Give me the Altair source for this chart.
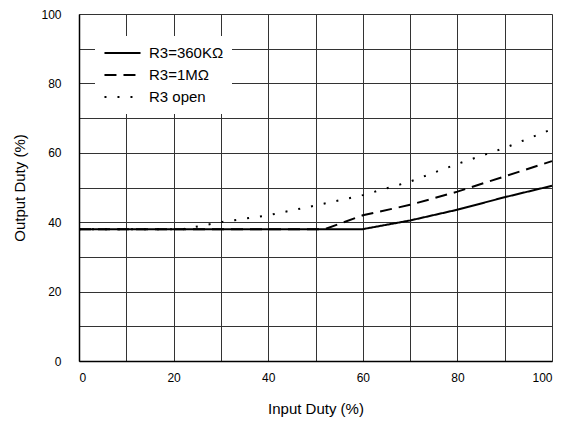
import altair as alt
import pandas as pd

series_names = ["R3=360KΩ", "R3=1MΩ", "R3 open"]

x_360k = [0, 60, 70, 80, 90, 100]
y_360k = [38, 38, 40.5, 43.6, 47.2, 50.5]

x_1m = [0, 52, 60, 70, 80, 90, 100]
y_1m = [38, 38, 42, 45, 48.8, 53.2, 57.6]

x_open = [0, 22, 30, 40, 50, 60, 70, 80, 90, 100]
y_open = [38, 38, 40, 42, 44.8, 47.8, 51.7, 56.8, 61.4, 66.8]

rows = []
for name, xs, ys in zip(series_names, [x_360k, x_1m, x_open], [y_360k, y_1m, y_open]):
    for i, (a, b) in enumerate(zip(xs, ys)):
        rows.append({"series": name, "input": a, "output": b, "order": i})
df = pd.DataFrame(rows)

grid_vals = list(range(0, 101, 10))
font = "Liberation Sans"

chart = alt.Chart(df).mark_line(color="black", strokeWidth=2).encode(
    x=alt.X("input:Q", title="Input Duty (%)",
            scale=alt.Scale(domain=[0, 100], nice=False),
            axis=alt.Axis(values=grid_vals,
                          labelExpr="datum.value % 20 == 0 ? datum.label : ''",
                          ticks=False, labelPadding=11, titlePadding=18,
                          gridColor="#333", gridOpacity=1, gridWidth=1,
                          domainColor="black", domainWidth=1.5,
                          labelFont=font, labelFontSize=12, labelColor="black",
                          titleFont=font, titleFontSize=15, titleFontWeight="normal",
                          titleColor="black")),
    y=alt.Y("output:Q", title="Output Duty (%)",
            scale=alt.Scale(domain=[0, 100], nice=False),
            axis=alt.Axis(values=grid_vals,
                          labelExpr="datum.value % 20 == 0 ? datum.label : ''",
                          ticks=False, labelPadding=18, titlePadding=13,
                          gridColor="#333", gridOpacity=1, gridWidth=1,
                          domainColor="black", domainWidth=1.5,
                          labelFont=font, labelFontSize=12, labelColor="black",
                          titleFont=font, titleFontSize=15, titleFontWeight="normal",
                          titleColor="black")),
    strokeDash=alt.StrokeDash("series:N",
        scale=alt.Scale(domain=series_names, range=[[1, 0], [12, 7], [2, 11]]),
        legend=alt.Legend(title=None, orient="none", legendX=16, legendY=22,
                          fillColor="white", padding=8, symbolType="stroke",
                          symbolSize=1300, symbolStrokeWidth=2, symbolStrokeColor="black",
                          labelFont=font, labelFontSize=15, labelColor="black",
                          clipHeight=18, rowPadding=4, labelOffset=7)),
    order="order:Q",
).properties(
    width=473, height=347,
    autosize=alt.AutoSizeParams(type="none"),
    padding={"left": 71, "top": 6, "right": 4, "bottom": 60},
).configure_view(stroke="black", strokeWidth=1.5).configure(background="white")

chart.save("out.html", embed_options={"renderer": "svg", "actions": False})
